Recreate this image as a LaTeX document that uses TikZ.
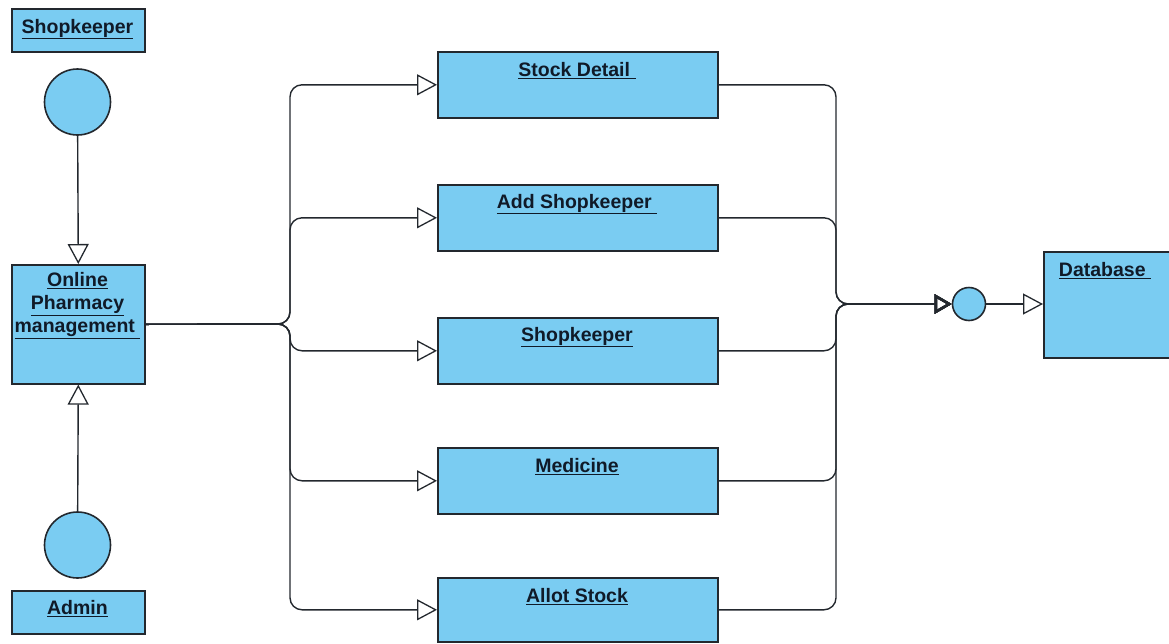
\documentclass[tikz,border=0pt]{standalone}
\usepackage{fontspec}
\setmainfont{Liberation Sans}
\usetikzlibrary{arrows.meta}
\definecolor{boxblue}{RGB}{122,204,242}
\definecolor{edge}{RGB}{35,40,46}
\definecolor{ink}{RGB}{16,26,40}
\begin{document}
\begin{tikzpicture}[x=1pt,y=-1pt,
  box/.style={draw=edge, fill=boxblue, line width=1.6pt, inner sep=0pt, anchor=north west},
  actor/.style={circle, draw=edge, fill=boxblue, line width=1.6pt, inner sep=0pt, minimum size=66pt},
  port/.style={circle, draw=edge, fill=boxblue, line width=1.6pt, inner sep=0pt, minimum size=33pt},
  caption/.style={font=\bfseries\fontsize{19.5}{23}\selectfont, text=ink, inner sep=0pt, align=center},
  conn/.style={draw=edge, line width=1.4pt},
  opentip/.tip={Triangle[open, length=20pt, width=21pt, line width=1.3pt]},
  boldtip/.tip={Triangle[open, length=17pt, width=19pt, line width=2.4pt]}
]
\useasboundingbox (0,0) rectangle (1169,643);

% actors and the system box
\node[box, minimum width=133pt, minimum height=43pt] (shk) at (11,8) {};
\node[caption] (shkT) at (77.5,29) {\underline{Shopkeeper}};
\node[actor] (shkC) at (77.5,102) {};

\node[box, minimum width=133pt, minimum height=119pt] (opm) at (11,264) {};
\node[caption, anchor=north] (opmT) at (77.5,272) {\underline{Online}\\\underline{Pharmacy}\\\underline{management\ }};

\node[actor] (admC) at (77.5,545) {};
\node[box, minimum width=133pt, minimum height=43pt] (adm) at (11,590) {};
\node[caption] (admT) at (77.5,609) {\underline{Admin}};

\draw[conn, -{opentip}] (shkC) -- (opm.north);
\draw[conn, -{opentip}] (admC) -- (opm.south);

% module boxes
\node[box, minimum width=280pt, minimum height=66pt] (sd) at (437,51) {};
\node[caption] (sdT) at (577,71) {\underline{Stock Detail\ }};
\node[box, minimum width=280pt, minimum height=66pt] (as) at (437,184) {};
\node[caption] (asT) at (577,204) {\underline{Add Shopkeeper\ }};
\node[box, minimum width=280pt, minimum height=66pt] (sk) at (437,317) {};
\node[caption] (skT) at (577,337) {\underline{Shopkeeper}};
\node[box, minimum width=280pt, minimum height=66pt] (md) at (437,447) {};
\node[caption] (mdT) at (577,467) {\underline{Medicine}};
\node[box, minimum width=280pt, minimum height=64pt] (at) at (437,577) {};
\node[caption] (atT) at (577,597) {\underline{Allot Stock}};

% storage side
\node[box, minimum width=126pt, minimum height=106pt] (db) at (1043,251) {};
\node[caption] (dbT) at (1105,271) {\underline{Database\ }};
\node[port] (dot) at (969,304) {};

% fan-out and fan-in buses
\coordinate (js) at (290,324);
\coordinate (jn) at (836,304);
\foreach \t in {sd,as,sk,md,at}{
  \draw[conn, rounded corners=12pt, -{opentip}] (opm.east) -- (js) |- (\t.west);
  \draw[conn, rounded corners=12pt, -{boldtip}] (\t.east) -| (jn) -- (dot.west);
}
\draw[conn, -{opentip}] (dot.east) -- (dot.east -| db.west);
\end{tikzpicture}
\end{document}
